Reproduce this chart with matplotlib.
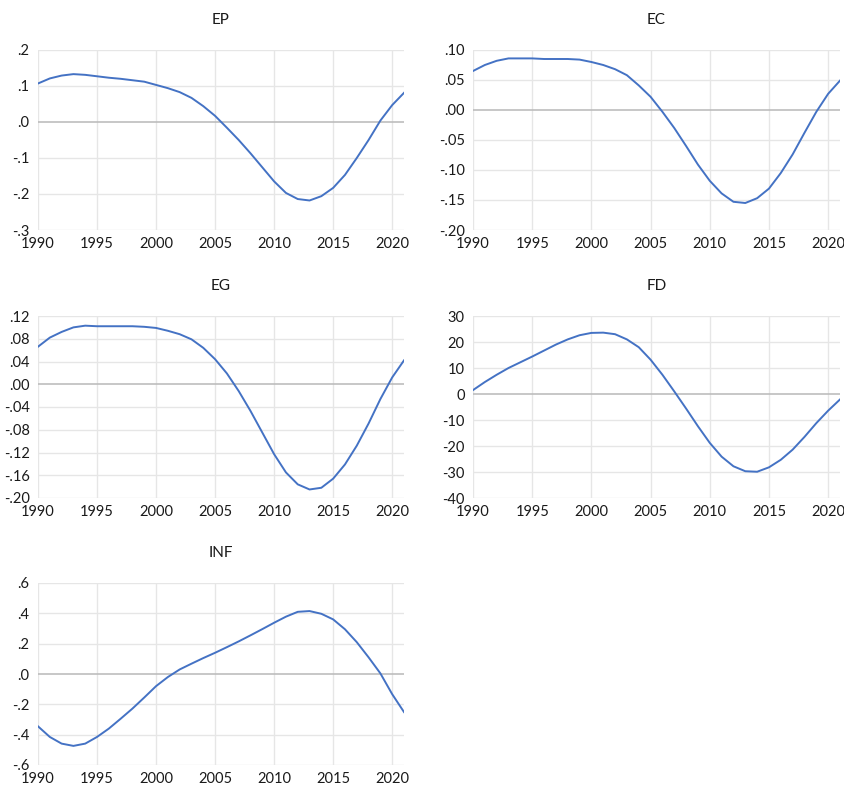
import numpy as np
import matplotlib.pyplot as plt
from matplotlib.ticker import FuncFormatter

years = list(range(1990, 2022))

ep = [0.107, 0.121, 0.129, 0.133, 0.131, 0.127, 0.123, 0.120, 0.116, 0.112,
      0.103, 0.094, 0.083, 0.067, 0.044, 0.017, -0.016, -0.050, -0.087, -0.126,
      -0.165, -0.197, -0.214, -0.218, -0.206, -0.183, -0.147, -0.100, -0.050, 0.004,
      0.047, 0.081]

ec = [0.065, 0.075, 0.082, 0.086, 0.086, 0.086, 0.085, 0.085, 0.085, 0.084,
      0.080, 0.075, 0.068, 0.058, 0.041, 0.022, -0.003, -0.030, -0.060, -0.091,
      -0.118, -0.139, -0.153, -0.155, -0.147, -0.131, -0.105, -0.074, -0.038, -0.003,
      0.027, 0.049]

eg = [0.066, 0.082, 0.092, 0.100, 0.103, 0.102, 0.102, 0.102, 0.102, 0.101,
      0.099, 0.094, 0.088, 0.079, 0.064, 0.044, 0.019, -0.012, -0.047, -0.085,
      -0.123, -0.155, -0.176, -0.185, -0.182, -0.166, -0.141, -0.108, -0.069, -0.026,
      0.012, 0.042]

fd = [1.5, 4.6, 7.4, 10.0, 12.2, 14.4, 16.7, 19.0, 21.0, 22.6,
      23.5, 23.6, 23.0, 21.0, 18.0, 13.2, 7.4, 1.0, -5.6, -12.4,
      -18.8, -24.1, -27.8, -29.7, -29.9, -28.2, -25.3, -21.4, -16.5, -11.2,
      -6.4, -2.1]

inf = [-0.345, -0.415, -0.459, -0.474, -0.459, -0.415, -0.36, -0.295, -0.228, -0.155,
       -0.08, -0.02, 0.03, 0.068, 0.105, 0.14, 0.177, 0.215, 0.255, 0.296,
       0.338, 0.378, 0.41, 0.415, 0.397, 0.36, 0.295, 0.21, 0.11, 0.004,
       -0.133, -0.251]

# name, data, y ticks, decimals
panels = [
    ("EP", ep, [-0.3, -0.2, -0.1, 0.0, 0.1, 0.2], 1),
    ("EC", ec, [-0.20, -0.15, -0.10, -0.05, 0.0, 0.05, 0.10], 2),
    ("EG", eg, [-0.20, -0.16, -0.12, -0.08, -0.04, 0.0, 0.04, 0.08, 0.12], 2),
    ("FD", fd, [-40, -30, -20, -10, 0, 10, 20, 30], 0),
    ("INF", inf, [-0.6, -0.4, -0.2, 0.0, 0.2, 0.4, 0.6], 1),
]

# axes boxes in pixels
W, H = 845, 788
cols = [(38, 404), (473, 840)]
rows = [(50, 230), (316, 498), (583, 765)]

LINE = "#4472c4"
GRID = "#e6e6e6"
ZERO = "#bdbdbd"

plt.rcParams['font.family'] = ['Lato', 'DejaVu Sans']

fig = plt.figure(figsize=(W / 100, H / 100), dpi=100)


def make_fmt(dec):
    def f(v, pos):
        if dec == 0:
            return f"{int(round(v))}"
        s = f"{v:.{dec}f}"
        if s.startswith("0."):
            s = s[1:]
        s = s.replace("-0.", "-.", 1)
        if s.startswith("-.") and float(s) == 0:
            s = s[1:]
        return s
    return f


for k, (name, data, yt, dec) in enumerate(panels):
    r, c = divmod(k, 2)
    x0, x1 = cols[c]
    top, bot = rows[r]
    ax = fig.add_axes([x0 / W, 1 - bot / H, (x1 - x0) / W, (bot - top) / H])

    ax.set_xlim(1990, 2021)
    ax.set_ylim(yt[0], yt[-1])
    ax.set_xticks(range(1990, 2021, 5))
    ax.set_yticks(yt)
    ax.yaxis.set_major_formatter(FuncFormatter(make_fmt(dec)))

    for t in range(1990, 2021, 5):
        ax.axvline(t, color=GRID, lw=1, zorder=0)
    for v in yt:
        if v != 0:
            ax.axhline(v, color=GRID, lw=1, zorder=0)
    ax.axhline(0, color=ZERO, lw=1.2, zorder=1)

    ax.plot(years, data, color=LINE, lw=1.4, zorder=3)

    for s in ax.spines.values():
        s.set_visible(False)
    ax.tick_params(length=0, labelsize=10.5, colors="#1a1a1a")
    ax.tick_params(axis="x", pad=5)
    ax.tick_params(axis="y", pad=6)
    ax.set_title(name, fontsize=11, pad=19, color="#1a1a1a")

fig.savefig("out.png", dpi=100)
